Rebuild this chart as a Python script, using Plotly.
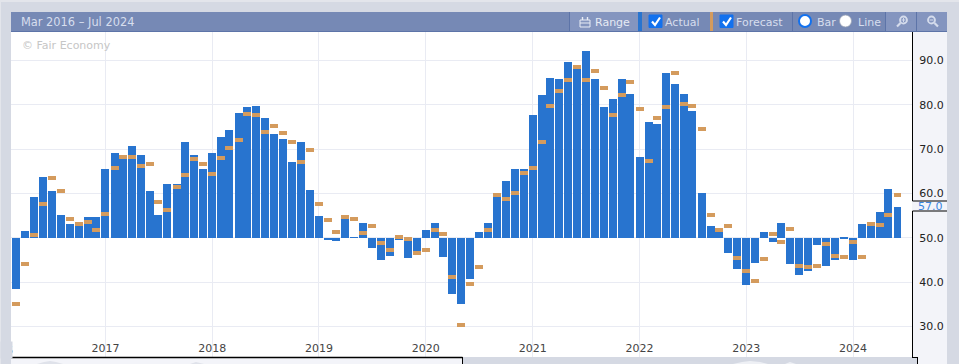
import plotly.graph_objects as go

months = [f"{2016 + (i + 2) // 12}-{(i + 2) % 12 + 1:02d}-01" for i in range(100)]

actual = [38.5, 51.6, 59.2, 63.8, 60.6, 55.2, 53.2, 52.7, 54.7, 54.7,
          65.6, 69.2, 68.4, 70.8, 68.7, 60.6, 55.2, 62.2, 62.2, 71.7,
          68.7, 65.6, 69.2, 72.8, 74.4, 78.2, 79.6, 79.8, 77.1, 73.5,
          72.3, 67.1, 71.7, 60.8, 55.0, 49.5, 49.3, 54.3, 50.2, 53.4,
          47.7, 45.0, 45.9, 49.5, 45.5, 47.0, 51.8, 53.4, 45.7, 37.3,
          35.1, 40.8, 51.4, 53.4, 59.2, 62.9, 65.6, 65.6, 77.7, 82.3,
          86.1, 85.9, 89.7, 88.1, 92.2, 85.9, 79.6, 81.4, 85.9, 82.5,
          68.3, 76.2, 75.7, 87.2, 84.7, 82.5, 78.6, 60.2, 52.7, 51.4,
          46.6, 43.0, 39.4, 44.4, 51.4, 49.1, 53.4, 44.1, 41.7, 42.6,
          48.4, 43.7, 45.0, 49.8, 45.0, 53.2, 52.7, 55.9, 61.0, 57.0]

forecast = [35.1, 44.1, 50.7, 57.7, 63.5, 60.6, 54.3, 53.2, 53.7, 51.8,
            55.4, 65.8, 68.3, 68.3, 66.2, 66.7, 58.1, 56.3, 61.5, 64.2,
            67.8, 66.7, 64.4, 68.0, 70.3, 72.1, 78.0, 77.7, 73.9, 75.3,
            73.7, 71.7, 67.1, 69.9, 57.7, 54.1, 51.4, 54.7, 54.3, 51.1,
            52.7, 48.9, 47.3, 50.2, 49.8, 46.6, 47.3, 51.8, 50.9, 41.2,
            30.4, 39.6, 43.5, 51.8, 59.7, 58.8, 60.2, 64.7, 65.8, 71.7,
            79.8, 83.2, 85.6, 88.6, 85.6, 87.7, 83.8, 77.7, 82.3, 85.2,
            79.1, 67.4, 77.1, 79.6, 87.2, 80.2, 79.8, 74.6, 55.2, 51.8,
            52.7, 45.5, 42.6, 40.3, 45.3, 50.9, 49.1, 52.0, 43.7, 43.5,
            43.7, 48.6, 45.9, 45.7, 49.1, 45.7, 53.2, 52.9, 55.2, 59.7]

year_ticks = ["2017-01-01", "2018-01-01", "2019-01-01", "2020-01-01",
              "2021-01-01", "2022-01-01", "2023-01-01", "2024-01-01"]
year_labels = ["2017", "2018", "2019", "2020", "2021", "2022", "2023", "2024"]
value_ticks = [30, 40, 50, 60, 70, 80, 90]
BASE = 50
FORECAST_THICKNESS = 0.9

W, H = 959, 364
BLUE = "#2874cf"
ORANGE = "#d49b5d"
GREY = "#d5d9e3"
PANEL = "#f3f4f9"
BAR = "#7689b5"
BAR_LIGHT = "#8495bf"
SEP = "#5d74a8"
TXT = "#d7deee"
FONT = "DejaVu Sans"


def px(x):
    return x / W


def py(y):
    return 1 - y / H


def rect(x0, y0, x1, y1, fill, line=None, lw=1, layer="above"):
    return dict(type="rect", xref="paper", yref="paper", layer=layer,
                x0=px(x0), x1=px(x1), y0=py(y1), y1=py(y0), fillcolor=fill,
                line=dict(color=line or fill, width=lw if line else 0))


def seg(x0, y0, x1, y1, color, lw=1):
    return dict(type="line", xref="paper", yref="paper", layer="above",
                x0=px(x0), x1=px(x1), y0=py(y0), y1=py(y1),
                line=dict(color=color, width=lw))


def circ(cx, cy, r, fill, line=None, lw=1):
    return dict(type="circle", xref="paper", yref="paper", layer="above",
                x0=px(cx - r), x1=px(cx + r), y0=py(cy + r), y1=py(cy - r),
                fillcolor=fill, line=dict(color=line or fill, width=lw if line else 0))


def path(points, color, lw=1.8, fill=None):
    d = "M" + " L".join(f"{px(a):.5f},{py(b):.5f}" for a, b in points)
    if fill:
        d += " Z"
    return dict(type="path", xref="paper", yref="paper", layer="above", path=d,
                fillcolor=fill or "rgba(0,0,0,0)",
                line=dict(color=color, width=lw if not fill else 0))


def label(x, y, text, color=TXT, size=11, anchor="left", **kw):
    return dict(xref="paper", yref="paper", x=px(x), y=py(y), text=text, showarrow=False,
                xanchor=anchor, yanchor="middle", font=dict(family=FONT, size=size, color=color),
                borderpad=0, **kw)


fig = go.Figure()
fig.add_bar(x=months, y=[v - BASE for v in actual], base=BASE, width=2.36e9,
            marker=dict(color=BLUE, line=dict(width=0)), name="Actual")
fig.add_bar(x=months, y=[FORECAST_THICKNESS] * len(forecast),
            base=[v - FORECAST_THICKNESS / 2 for v in forecast], width=2.36e9,
            marker=dict(color=ORANGE, line=dict(width=0)), name="Forecast")

shapes = [
    # page frame
    rect(912, 32, 947, 364, PANEL, layer="below"),
    rect(11, 358, 462, 364, PANEL),
    rect(463, 358, 917, 364, GREY),
    rect(0, 0, 959, 2, "#e3e5eb"),
    rect(0, 0, 1, 364, "#e3e5eb"),
    # navigator silhouettes
    path([(37, 364), (44, 362), (50, 361), (56, 362), (63, 364)], "#d5d9e3", fill="#dfe2ea"),
    path([(190, 364), (196, 362), (204, 364)], "#d5d9e3", fill="#dfe2ea"),
    path([(733, 364), (742, 362), (750, 361), (760, 362), (768, 364)], "#ffffff", fill="#eef0f5"),
    path([(785, 364), (790, 362), (796, 364)], "#ffffff", fill="#eef0f5"),
    seg(11, 357.5, 462.5, 357.5, "#000000", 1.5),
    seg(462.5, 357, 462.5, 364, "#000000", 1),
    seg(912.5, 357.5, 917.5, 357.5, "#000000", 1),
    seg(917.5, 357, 917.5, 364, "#000000", 1),
    # value axis with the last-value tag
    seg(912.5, 32, 912.5, 201, "#000000", 1),
    seg(912.5, 211, 912.5, 358, "#000000", 1),
    seg(912.5, 201, 947, 201, "#000000", 1),
    seg(912.5, 211, 947, 211, "#000000", 1),
    # toolbar
    rect(11, 12, 947, 31, BAR),
    rect(570, 12, 638, 31, BAR_LIGHT),
    rect(885, 12, 947, 31, BAR_LIGHT),
    seg(11, 31.5, 947, 31.5, SEP, 1),
    seg(569.5, 12, 569.5, 31, SEP, 1),
    seg(792.5, 12, 792.5, 31, SEP, 1),
    seg(885.5, 12, 885.5, 31, SEP, 1),
    seg(916.5, 12, 916.5, 31, SEP, 1),
    rect(638, 12, 642, 31, BLUE),
    rect(710, 12, 713, 31, ORANGE),
    # calendar icon
    rect(580, 20, 590, 27, "rgba(0,0,0,0)", "#e8ecf5", 1),
    seg(580, 23, 590, 23, "#e8ecf5", 1),
    seg(582.5, 17, 582.5, 20, "#e8ecf5", 1.4),
    seg(587.5, 17, 587.5, 20, "#e8ecf5", 1.4),
    # check boxes
    rect(649, 15, 662, 27.5, "#1271ee", "#1271ee", 1),
    path([(652, 21.5), (655, 25), (660, 17.5)], "#ffffff", 2.2),
    rect(720, 15, 733, 27.5, "#1271ee", "#1271ee", 1),
    path([(723, 21.5), (726, 25), (731, 17.5)], "#ffffff", 2.2),
    # radios
    circ(805, 21, 6, "#ffffff", "#1271ee", 2),
    circ(845.5, 21, 6, "#ffffff", "#9aa3b5", 0.8),
    # magnifiers
    circ(903.5, 20, 3.5, "rgba(0,0,0,0)", "#d5dcec", 1.8),
    seg(900.5, 23, 897, 26.5, "#d5dcec", 2.2),
    seg(901.5, 20, 905.5, 20, "#d5dcec", 1),
    seg(903.5, 18, 903.5, 22, "#d5dcec", 1),
    circ(931.5, 20, 3.5, "rgba(0,0,0,0)", "#d5dcec", 1.8),
    seg(934.5, 23, 938, 26.5, "#d5dcec", 2.2),
    seg(929.5, 20, 933.5, 20, "#d5dcec", 1),
]

annotations = [
    label(20, 22, "Mar 2016 – Jul 2024", size=11.4),
    label(593.5, 22, "Range", color="#e6eaf4"),
    label(664, 22, "Actual"),
    label(735, 22, "Forecast"),
    label(816, 22, "Bar"),
    label(857, 22, "Line"),
    label(21, 45, "© Fair Economy", color="#c6c6c6"),
    label(916.5, 206, "57.0", color="#3a86e0"),
    label(13.7, 350, "6", color="#222222", anchor="right"),
    label(0, 350, " ", anchor="left", bgcolor=GREY, width=11, height=16),
]

fig.update_layout(
    width=W, height=H, autosize=False,
    margin=dict(l=0, r=0, t=0, b=0, pad=0),
    paper_bgcolor=GREY, plot_bgcolor="#ffffff",
    showlegend=False, barmode="overlay", bargap=0,
    font=dict(family=FONT, size=11, color="#222222"),
    shapes=shapes, annotations=annotations,
    xaxis=dict(domain=[px(11), px(913)], type="date",
               range=["2016-02-13", "2024-07-24"],
               tickmode="array", tickvals=year_ticks, ticktext=year_labels,
               ticklabelposition="inside", ticks="", showline=False, zeroline=False,
               gridcolor="#e9ebf3", gridwidth=1),
    yaxis=dict(domain=[py(357), py(32)], range=[23.15, 96.45], side="right",
               tickmode="array", tickvals=value_ticks, tickformat=".1f",
               ticks="outside", ticklen=3, tickcolor="rgba(0,0,0,0)",
               showline=False, zeroline=False, gridcolor="#e9ebf3", gridwidth=1),
)

fig.write_html("out.html", config={"displayModeBar": False},
               post_script="document.body.style.margin='0';document.body.style.overflow='hidden';")
